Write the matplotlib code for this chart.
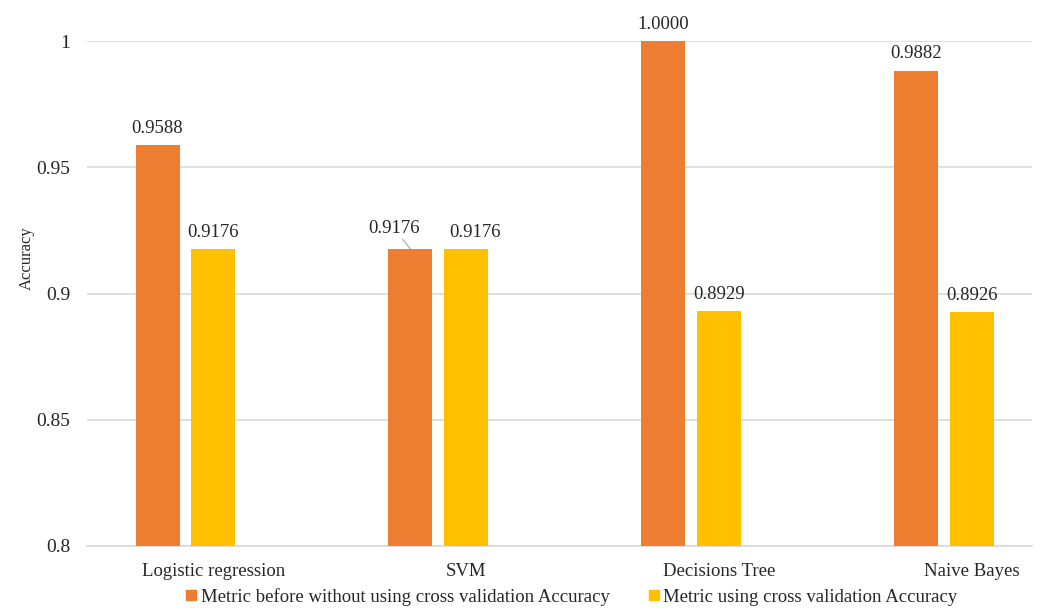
import numpy as np
import matplotlib.pyplot as plt
from matplotlib.lines import Line2D

# Accuracy by model, before and after cross validation
models = ["Logistic regression", "SVM", "Decisions Tree", "Naive Bayes"]
acc_before = [0.9588, 0.9176, 1.0000, 0.9882]
acc_cv = [0.9176, 0.9176, 0.8929, 0.8926]
series_names = ["Metric before without using cross validation Accuracy",
                "Metric using cross validation Accuracy"]

orange = "#ED7D31"
yellow = "#FFC000"
text_col = "#262626"
grid_col = "#D9D9D9"

plt.rcParams["font.family"] = ["Liberation Serif", "DejaVu Serif"]

fig = plt.figure(figsize=(10.4, 6.08), dpi=100)
ax = fig.add_axes([87 / 1040, 1 - 546 / 608, (1032 - 87) / 1040, (546 - 41) / 608])

x = np.arange(len(models))
w = 0.174
x_before = x - 0.221
x_cv = x

ax.bar(x_before, acc_before, width=w, color=orange, zorder=3)
ax.bar(x_cv, acc_cv, width=w, color=yellow, zorder=3)

ax.set_ylim(0.8, 1.0)
ax.set_xlim(-0.5, 3.237)
ax.set_yticks([0.8, 0.85, 0.9, 0.95, 1.0])
ax.set_yticklabels(["0.8", "0.85", "0.9", "0.95", "1"])
ax.set_xticks(x)
ax.set_xticklabels(models)
ax.tick_params(axis="both", length=0, labelsize=13.5, colors=text_col)
ax.tick_params(axis="y", labelsize=14, pad=12)
ax.tick_params(axis="x", pad=12)
ax.grid(axis="y", color=grid_col, linewidth=1.2, zorder=0)
for side in ["top", "right", "left"]:
    ax.spines[side].set_visible(False)
ax.spines["bottom"].set_color(grid_col)
ax.spines["bottom"].set_linewidth(1.2)

fig.text(27 / 1040, 1 - 258 / 608, "Accuracy", rotation=90, ha="center",
         va="center", fontsize=12, color=text_col)

# value labels
lab = dict(ha="center", va="bottom", fontsize=13.5, color=text_col,
           textcoords="offset points", annotation_clip=False)
for i in range(len(models)):
    if models[i] == "SVM":
        ax.annotate(f"{acc_before[i]:.4f}", xy=(x_before[i], acc_before[i]),
                    xytext=(-12, 9),
                    arrowprops=dict(arrowstyle="-", color="#A6A6A6", lw=0.8,
                                    shrinkA=0, shrinkB=0), **lab)
        dx = 6
    else:
        ax.annotate(f"{acc_before[i]:.4f}", xy=(x_before[i], acc_before[i]),
                    xytext=(0, 6), **lab)
        dx = 0
    ax.annotate(f"{acc_cv[i]:.4f}", xy=(x_cv[i], acc_cv[i]),
                xytext=(dx, 6), **lab)

handles = [Line2D([], [], marker="s", linestyle="", markersize=7,
                  color=c) for c in (orange, yellow)]
fig.legend(handles, series_names, loc="center", ncol=2,
           bbox_to_anchor=(571 / 1040, 1 - 597 / 608), frameon=False,
           fontsize=13.5, handletextpad=0.15, columnspacing=2.0,
           handlelength=0.7, labelcolor=text_col)

fig.savefig("out.png", dpi=100)
